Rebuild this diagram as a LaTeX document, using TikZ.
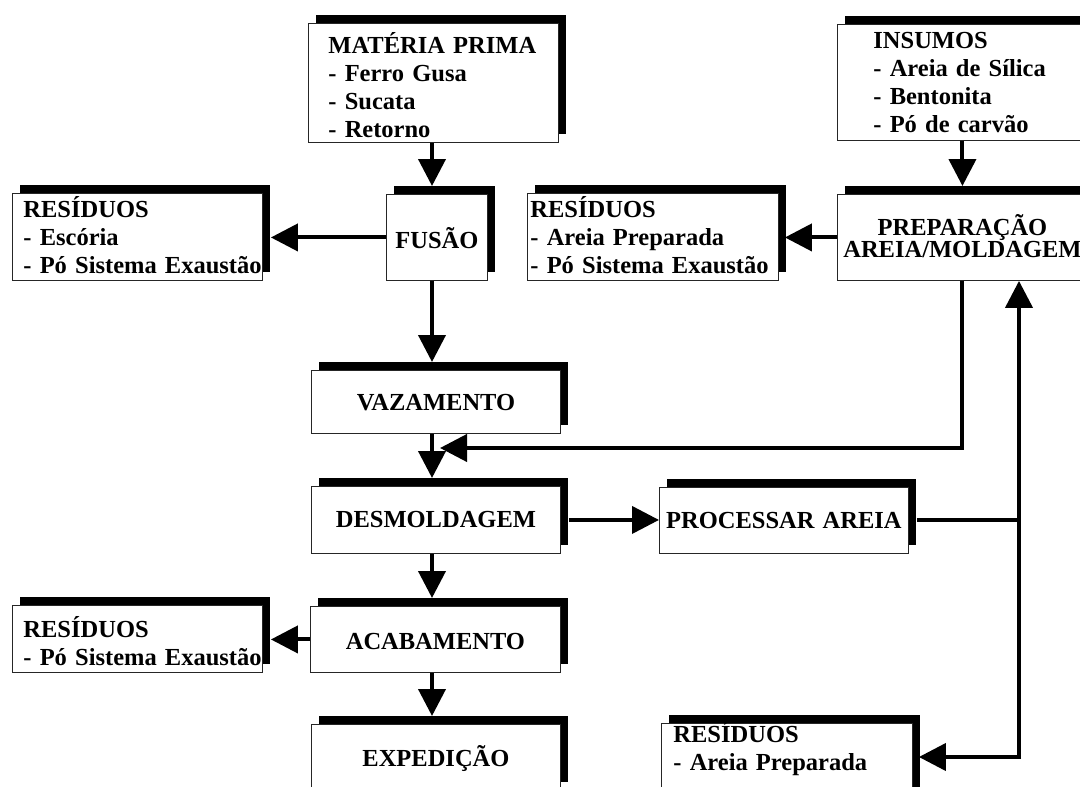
\documentclass[tikz,border=0pt]{standalone}
\usepackage{fontspec}
\setmainfont{Liberation Serif}
\usetikzlibrary{shadows,arrows.meta}
\hbadness=10000 \hfuzz=20pt
\begin{document}
\begin{tikzpicture}[x=1pt,y=-1pt,
  bx/.style={draw=black!85, line width=0.9pt, fill=white, inner ysep=0pt,
    anchor=north west, align=left,
    font=\fontsize{24.5pt}{28pt}\selectfont\bfseries,
    drop shadow={opacity=1, shadow xshift=8pt, shadow yshift=8pt, fill=black}},
  cbx/.style={bx, align=center, inner xsep=0pt},
  arr/.style={line width=4pt, -{Triangle[width=27pt,length=27pt]}},
  ln/.style={line width=4pt}
]
\useasboundingbox (0,0) rectangle (1080,787);
\clip (0,0) rectangle (1080,787);
\fill[white] (0,0) rectangle (1080,787);

% boxes
\node[bx, inner xsep=20pt, text width=210pt, text height=30pt, text depth=89pt] (mp) at (308,23)
  {MATÉRIA PRIMA\\- Ferro Gusa\\- Sucata\\- Retorno};
\node[bx, inner xsep=36pt, text width=178pt, text height=24pt, text depth=92pt] (ins) at (837,24)
  {INSUMOS\\- Areia de Sílica\\- Bentonita\\- Pó de carvão};
\node[cbx, text width=101pt, text height=54pt, text depth=32pt] (fus) at (386,194) {FUSÃO};
\node[bx, inner xsep=11pt, text width=228pt, text height=24pt, text depth=63pt] (r1) at (12,193)
  {RESÍDUOS\\- Escória\\\mbox{- Pó Sistema Exaustão}};
\node[bx, inner xsep=3pt, text width=245pt, text height=24pt, text depth=63pt] (r2) at (527,193)
  {RESÍDUOS\\- Areia Preparada\\\mbox{- Pó Sistema Exaustão}};
\node[cbx, text width=250pt, text height=41pt, text depth=45pt,
  font=\fontsize{24.5pt}{22pt}\selectfont\bfseries] (prep) at (837,194)
  {PREPARAÇÃO\\AREIA/MOLDAGEM};
\node[cbx, text width=249pt, text height=40pt, text depth=23pt] (vaz) at (311,370) {VAZAMENTO};
\node[cbx, text width=249pt, text height=41pt, text depth=26pt] (desm) at (311,486) {DESMOLDAGEM};
\node[cbx, text width=249pt, text height=41pt, text depth=25pt] (proc) at (659,487) {PROCESSAR AREIA};
\node[cbx, text width=250pt, text height=43pt, text depth=23pt] (acab) at (310,606) {ACABAMENTO};
\node[bx, inner xsep=11pt, text width=228pt, text height=32pt, text depth=35pt] (r3) at (12,605)
  {RESÍDUOS\\\mbox{- Pó Sistema Exaustão}};
\node[cbx, text width=249pt, text height=42pt, text depth=24pt] (exp) at (311,724) {EXPEDIÇÃO};
\node[bx, inner xsep=12pt, text width=227pt, text height=19pt, text depth=88pt] (r4) at (661,723)
  {RESÍDUOS\\- Areia Preparada};

% helper coordinates
\coordinate (col) at (432,0);
\coordinate (fb) at (440,448);
\coordinate (j) at (1019,520);
\coordinate (k) at (1019,757);

% connectors
\draw[arr] (col |- mp.south) -- ([yshift=8pt]col |- fus.north);
\draw[arr] (ins.south) -- ([yshift=8pt]ins.south |- prep.north);
\draw[arr] (fus.west) -- ([xshift=8pt]fus.west -| r1.east);
\draw[arr] (prep.west) -- ([xshift=6pt]prep.west -| r2.east);
\draw[arr] (col |- fus.south) -- ([yshift=8pt]col |- vaz.north);
\draw[arr] (col |- vaz.south) -- ([yshift=8pt]col |- desm.north);
\draw[arr] (col |- desm.south) -- ([yshift=8pt]col |- acab.north);
\draw[arr] (col |- acab.south) -- ([yshift=8pt]col |- exp.north);
\draw[arr] (acab.west) -- ([xshift=8pt]acab.west -| r3.east);
\draw[arr] ([xshift=8pt]desm.east) -- (desm.east -| proc.west);
\draw[arr, line join=miter] (prep.south) |- (fb);
\draw[ln] ([xshift=8pt]proc.east) -- (proc.east -| j);
\draw[arr] ([yshift=-2pt]j) -- (j |- prep.south);
\draw[ln, line join=miter] ([yshift=2pt]j) -- (k);
\draw[arr] ([xshift=2pt]k) -- ([xshift=6pt]k -| r4.east);
\end{tikzpicture}
\end{document}
